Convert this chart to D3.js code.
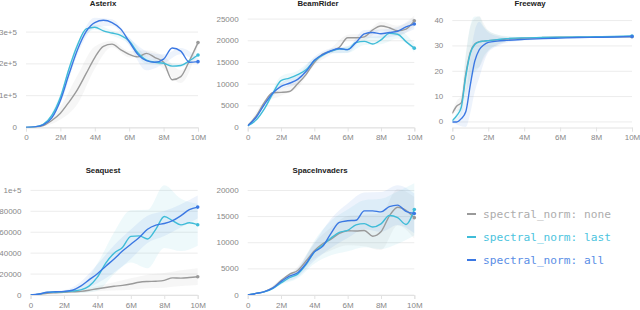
<html>
<script src='https://d3js.org/d3.v7.min.js'></script>
<style>
 body { margin: 0; background: #fff; }
 text { font-family: "Liberation Sans", Arial, sans-serif; }
 .tick text { fill: #888; font-size: 8px; }
 .title { font-weight: bold; font-size: 7.8px; fill: #222; }
 .legend text { font-family: "DejaVu Sans Mono", monospace; font-size: 11.2px; }
</style>
<body>
<svg width=640 height=310></svg>
<script>
// x steps (millions of frames)
var steps = [0,0.5,1,1.5,2,2.5,3,3.5,4,4.5,5,5.5,6,6.5,7,7.5,8,8.5,9,9.5,10];
var bandSteps = [0,1,2,3,4,5,6,7,8,9,10];
var freewaySteps = [0,0.25,0.5,0.75,1,1.25,1.5,1.75,2,2.5,3,4,5,6,7,8,9,10];
var xTicks = [0,2,4,6,8,10];

var seriesNames = ["spectral_norm: none", "spectral_norm: last", "spectral_norm: all"];
var lineColors = ["#9a9a9a", "#3fbcd8", "#3b78e3"];
var legendColors = ["#adadad", "#4cc4de", "#5a8ee6"];

// Asterix
var asterixNone = [0,1000,6000,22000,45000,80000,120000,170000,220000,255000,262000,245000,230000,222000,233000,220000,205000,150000,160000,210000,267000];
var asterixLast = [0,2000,10000,38000,95000,185000,260000,310000,315000,304000,297000,290000,272000,235000,212000,205000,202000,193000,195000,210000,228000];
var asterixAll  = [0,2000,8000,30000,85000,168000,245000,302000,330000,337000,330000,310000,270000,230000,210000,205000,215000,250000,240000,205000,207000];
var asterixNoneBand = [0,2000,20000,45000,35000,10000,10000,10000,20000,20000,10000];
var asterixLastBand = [0,2000,10000,10000,8000,8000,10000,12000,5000,5000,5000];
var asterixAllBand  = [0,2000,10000,15000,15000,10000,12000,30000,15000,10000,10000];
var asterixTicks = [0,100000,200000,300000];

// BeamRider
var beamNone = [400,2600,5800,8000,8100,8300,10100,12200,15000,16900,17600,18500,20700,20700,20900,22500,23400,23000,22300,22700,24600];
var beamLast = [400,1700,4300,7800,10800,11400,12200,13300,15400,16700,17600,18100,18000,19600,19850,19250,20200,21700,21500,19800,18300];
var beamAll  = [400,2300,5300,7900,9500,10200,11100,12900,15500,16800,17700,18200,17950,19600,21600,21900,21600,21900,22200,23200,23850];
var beamNoneBand = [0,300,800,900,700,700,700,800,1000,1200,1200];
var beamLastBand = [0,300,1000,900,600,500,800,800,1000,1000,1000];
var beamAllBand  = [0,300,700,1000,800,600,700,900,1000,1000,1200];
var beamTicks = [0,5000,10000,15000,20000,25000];

// Freeway
var freewayNone = [3.4,6.3,7.5,19,27.5,30.8,31.7,31.9,32.1,32.4,32.7,33.1,33.3,33.4,33.4,33.5,33.6,33.6];
var freewayLast = [0.5,2.5,5.8,18,27,30.6,31.6,31.9,32.1,32.5,32.9,33.2,33.3,33.4,33.5,33.6,33.7,33.9];
var freewayAll  = [0,0,1.3,4,14.5,24,28.5,30.4,31.4,31.9,32.2,32.6,32.9,33.1,33.3,33.4,33.5,33.7];
var freewayNoneBand = [1,2,3,8,10,10,10,7,4,2,1,0.3,0.3,0.3,0.3,0.3,0.3,0.3];
var freewayLastBand = [0.5,1.5,3,8,11,11,10,6,4,2,1,0.3,0.3,0.3,0.3,0.3,0.3,0.3];
var freewayAllBand  = [0.5,1,3,6,11,12,11,7,4,2,1,0.5,0.4,0.3,0.3,0.3,0.3,0.3];
var freewayTicks = [0,10,20,30,40];

// Seaquest
var seaNone = [0,600,1600,2100,2500,3000,3500,4600,6000,7200,8300,9200,10500,12200,12900,13200,14000,16400,16100,16700,17500];
var seaLast = [0,800,2500,2900,3100,3700,4900,8500,17000,30500,40000,45500,56000,56500,53500,63000,75000,71000,67000,69000,67100];
var seaAll  = [0,900,2600,3100,3500,4500,8500,14500,20300,27500,34500,42000,48500,55000,62800,66800,68300,71000,75800,81500,84000];
var seaNoneBand = [0,500,1000,1500,2500,4000,5500,6500,7000,7500,8000];
var seaLastBand = [0,500,1000,3000,13000,20000,25000,28000,30000,25000,20000];
var seaAllBand  = [0,500,1000,4000,9000,13000,14000,13000,12000,11000,11000];
var seaTicks = [0,20000,40000,60000,80000,100000];

// SpaceInvaders
var spaceNone = [0,300,640,1350,2750,3950,4700,6500,8450,9800,10700,11800,12300,12250,12350,11250,12100,15100,16800,16200,14800];
var spaceLast = [0,300,600,1200,2300,3300,4000,5800,8200,9500,10900,12000,12350,13400,13650,13000,13600,15200,14800,13500,16370];
var spaceAll  = [0,300,640,1300,2550,3600,4250,6000,8250,9300,11800,13900,14200,14300,16100,16100,15900,16900,17200,16000,15600];
var spaceNoneBand = [0,50,300,700,1500,2200,2800,3000,3500,3500,4000];
var spaceLastBand = [0,50,300,800,2200,3300,4000,4500,4800,5000,5000];
var spaceAllBand  = [0,50,300,800,1700,2800,3300,3500,3800,3800,3800];
var spaceTicks = [0,5000,10000,15000,20000];

var panels = [
  {title: "Asterix", left: 26, right: 198, top: 13, bottom: 127.5, yDomain: [0, 360000], titleX: 103, titleY: 6,
   steps: steps, bandSteps: bandSteps, yTicks: asterixTicks,
   values: [asterixNone, asterixLast, asterixAll], bands: [asterixNoneBand, asterixLastBand, asterixAllBand]},
  {title: "BeamRider", left: 247.7, right: 414.3, top: 13, bottom: 127.5, yDomain: [0, 26400], titleX: 318, titleY: 6,
   steps: steps, bandSteps: bandSteps, yTicks: beamTicks,
   values: [beamNone, beamLast, beamAll], bands: [beamNoneBand, beamLastBand, beamAllBand]},
  {title: "Freeway", left: 452.3, right: 632, top: 13, bottom: 127.5, yDomain: [-2.2, 43], titleX: 530, titleY: 6,
   steps: freewaySteps, bandSteps: freewaySteps, yTicks: freewayTicks,
   values: [freewayNone, freewayLast, freewayAll], bands: [freewayNoneBand, freewayLastBand, freewayAllBand]},
  {title: "Seaquest", left: 30.5, right: 197.7, top: 182, bottom: 295, yDomain: [0, 108000], titleX: 103, titleY: 173,
   steps: steps, bandSteps: bandSteps, yTicks: seaTicks,
   values: [seaNone, seaLast, seaAll], bands: [seaNoneBand, seaLastBand, seaAllBand]},
  {title: "SpaceInvaders", left: 247.7, right: 414.3, top: 180, bottom: 295, yDomain: [0, 22000], titleX: 320, titleY: 173,
   steps: steps, bandSteps: bandSteps, yTicks: spaceTicks,
   values: [spaceNone, spaceLast, spaceAll], bands: [spaceNoneBand, spaceLastBand, spaceAllBand]}
];

var svg = d3.select("svg");

function fmtY(v) {
  if (v === 0) return "0";
  if (v >= 100000) return v.toExponential();
  return String(v);
}

panels.forEach(function(p, pi) {
  var x = d3.scaleLinear().domain([0, 10]).range([p.left, p.right]);
  var y = d3.scaleLinear().domain(p.yDomain).range([p.bottom, p.top]);

  var g = svg.append("g");

  g.append("clipPath").attr("id", "clip" + pi)
    .append("rect")
    .attr("x", p.left).attr("y", p.top)
    .attr("width", p.right - p.left + 3).attr("height", p.bottom - p.top);

  // gridlines
  g.selectAll(".grid")
    .data(p.yTicks)
    .enter().append("line")
    .attr("x1", p.left).attr("x2", p.right)
    .attr("y1", function(d) { return y(d); })
    .attr("y2", function(d) { return y(d); })
    .attr("stroke", "#ececec").attr("stroke-width", 1);

  // y labels
  g.selectAll(".ylab")
    .data(p.yTicks)
    .enter().append("text")
    .attr("class", "tick")
    .attr("x", p.left - 9)
    .attr("y", function(d) { return y(d); })
    .attr("dy", "0.32em")
    .attr("text-anchor", "end")
    .style("fill", "#888").style("font-size", "8px")
    .text(fmtY);

  // x axis
  var xa = g.append("g")
    .attr("transform", "translate(0," + p.bottom + ")")
    .call(d3.axisBottom(x).tickValues(xTicks).tickSize(4).tickPadding(3)
      .tickFormat(function(d) { return d === 0 ? "0" : d + "M"; }));
  xa.select(".domain").attr("stroke", "#e2e2e2");
  xa.selectAll(".tick line").attr("stroke", "#e2e2e2");
  xa.selectAll("text").style("font-family", "Liberation Sans, Arial, sans-serif");

  var plot = g.append("g").attr("clip-path", "url(#clip" + pi + ")");

  // bands
  p.values.forEach(function(vals, si) {
    var spread = p.bands[si];
    var pts = p.bandSteps.map(function(s, i) {
      var v = vals[p.steps.indexOf(s)];
      return {x: s, lo: v - spread[i], hi: v + spread[i]};
    });
    plot.append("path")
      .datum(pts)
      .attr("fill", lineColors[si])
      .attr("fill-opacity", 0.09)
      .attr("d", d3.area()
        .curve(d3.curveMonotoneX)
        .x(function(d) { return x(d.x); })
        .y0(function(d) { return y(d.lo); })
        .y1(function(d) { return y(d.hi); }));
  });

  // lines
  p.values.forEach(function(vals, si) {
    var pts = p.steps.map(function(s, i) { return {x: s, v: vals[i]}; });
    plot.append("path")
      .datum(pts)
      .attr("fill", "none")
      .attr("stroke", lineColors[si])
      .attr("stroke-width", 1.4)
      .attr("d", d3.line()
        .curve(d3.curveMonotoneX)
        .x(function(d) { return x(d.x); })
        .y(function(d) { return y(d.v); }));
    var last = pts[pts.length - 1];
    g.append("circle")
      .attr("cx", x(last.x)).attr("cy", y(last.v)).attr("r", 1.8)
      .attr("fill", lineColors[si]);
  });

  g.append("text")
    .attr("class", "title")
    .attr("x", p.titleX).attr("y", p.titleY)
    .attr("text-anchor", "middle")
    .text(p.title);
});

// legend
var legend = svg.append("g").attr("class", "legend");
var rowY = [214, 237, 260];
seriesNames.forEach(function(name, i) {
  legend.append("line")
    .attr("x1", 467).attr("x2", 476)
    .attr("y1", rowY[i]).attr("y2", rowY[i])
    .attr("stroke", lineColors[i]).attr("stroke-width", 2);
  legend.append("text")
    .attr("x", 483).attr("y", rowY[i])
    .attr("dy", "0.35em")
    .attr("fill", legendColors[i])
    .text(name);
});
</script>
</body>
</html>
